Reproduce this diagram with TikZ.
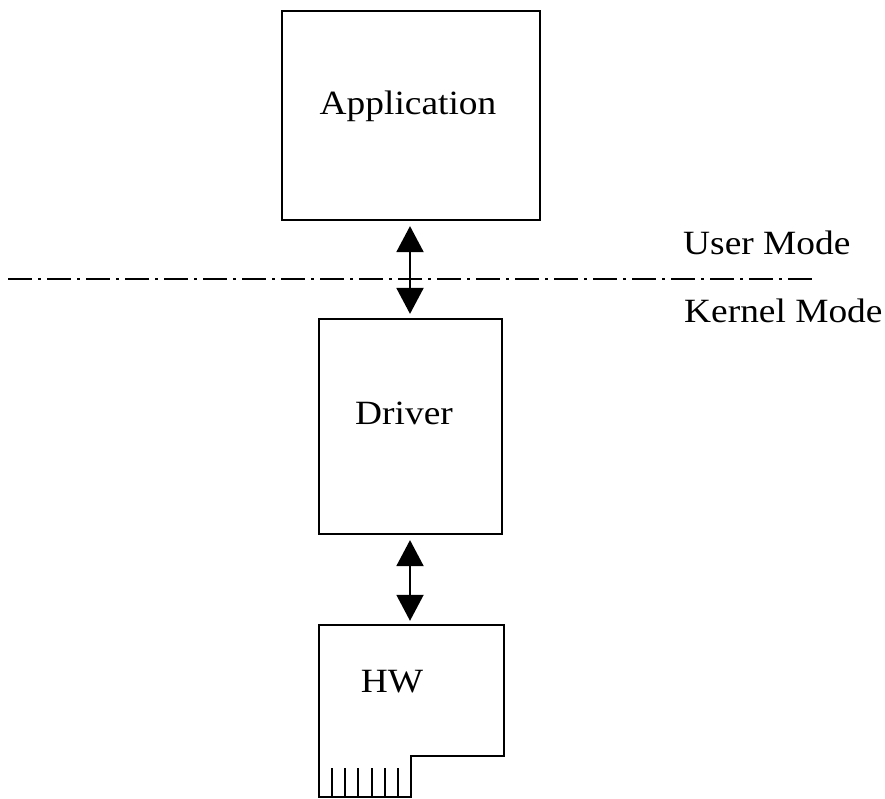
\documentclass[tikz,border=0pt]{standalone}
\usepackage{fontspec}
\setmainfont{Liberation Serif}[FakeStretch=1.1]
\usetikzlibrary{arrows.meta}
\begin{document}
\begin{tikzpicture}[x=1pt,y=-1pt,
  box/.style={draw=black,line width=2.2pt,rectangle,inner sep=0pt},
  lbl/.style={font=\fontsize{34}{40}\selectfont,inner sep=0pt,anchor=base},
  lbl west/.style={font=\fontsize{34}{40}\selectfont,inner sep=0pt,anchor=base west},
  dbl/.style={line width=2pt,{Triangle[width=27pt,length=26pt]}-{Triangle[width=27pt,length=26pt]},shorten <=5pt,shorten >=4pt},
  modeline/.style={line width=2.2pt,dash pattern=on 24pt off 6pt on 3pt off 6pt}]
\useasboundingbox (0,0) rectangle (885,799);
% boxes
\node[box,minimum width=258pt,minimum height=209pt] (app) at (411,115.5) {};
\node[box,minimum width=183pt,minimum height=215pt] (drv) at (410.5,426.5) {};
\node[inner sep=0pt,minimum width=185pt,minimum height=172pt] (hw) at (411.5,711) {};
\draw[line width=2.2pt,line join=miter] (319,625) -- (504,625) -- (504,756) -- (411,756) -- (411,797) -- (319,797) -- cycle;
\foreach \i in {0,...,5}{
  \draw[line width=2pt] ({332+13.2*\i},768) -- ({332+13.2*\i},797);
}
% labels
\node[lbl] (tapp) at (408,115) {Application};
\node[lbl] (tdrv) at (404,424) {Driver};
\node[lbl] (thw) at (392,692) {HW};
\node[lbl west] (tuser) at (683,255) {User Mode};
\node[lbl west] (tkern) at (684,322) {Kernel Mode};
% mode separator
\coordinate (ml) at (8,279);
\coordinate (mr) at (813,279);
\draw[modeline] (ml) -- (mr);
% connectors
\draw[dbl] (app.south -| 410,0) -- (drv.north -| 410,0);
\draw[dbl] (drv.south -| 410,0) -- (hw.north -| 410,0);
\end{tikzpicture}
\end{document}
